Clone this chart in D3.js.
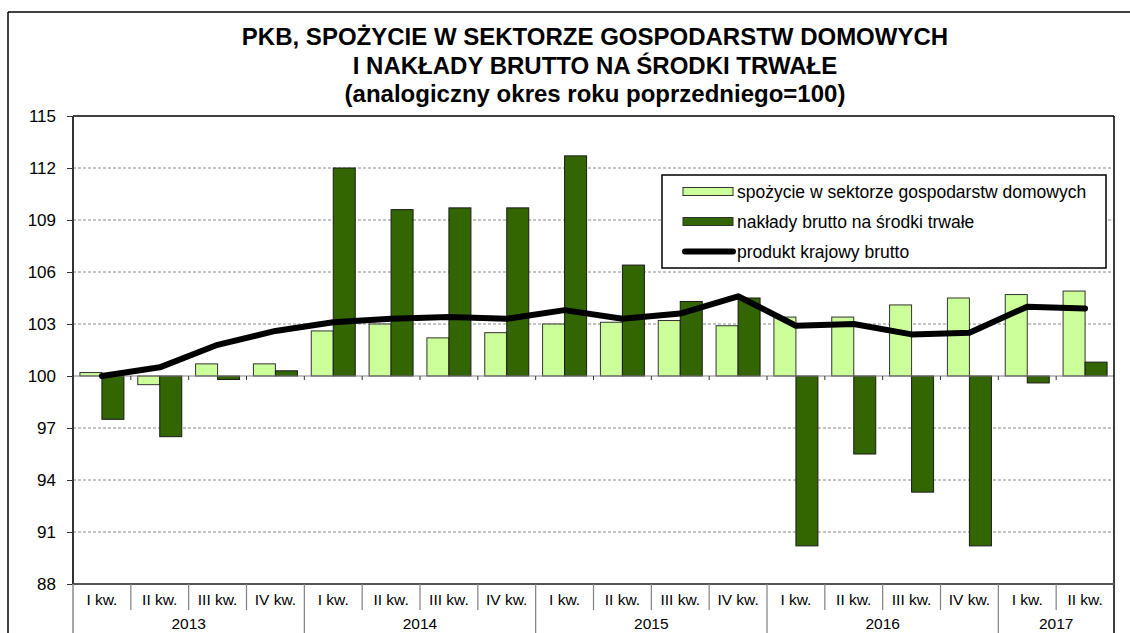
<!DOCTYPE html>
<html>
<head>
<meta charset="utf-8">
<script src="https://cdn.jsdelivr.net/npm/d3@7/dist/d3.min.js"></script>
<style>
  html, body { margin: 0; padding: 0; background: #fff; }
  svg { display: block; font-family: "Liberation Sans", Arial, sans-serif; }
</style>
</head>
<body>
<svg id="chart" width="1130" height="633"></svg>
<script>
// Quarterly indices, same period of previous year = 100
const quarters = ["I kw.", "II kw.", "III kw.", "IV kw.",
                  "I kw.", "II kw.", "III kw.", "IV kw.",
                  "I kw.", "II kw.", "III kw.", "IV kw.",
                  "I kw.", "II kw.", "III kw.", "IV kw.",
                  "I kw.", "II kw."];
const years = [
  { label: "2013", count: 4 },
  { label: "2014", count: 4 },
  { label: "2015", count: 4 },
  { label: "2016", count: 4 },
  { label: "2017", count: 2 }
];
const consumption = [100.2, 99.5, 100.7, 100.7,
                     102.6, 103.0, 102.2, 102.5,
                     103.0, 103.1, 103.2, 102.9,
                     103.4, 103.4, 104.1, 104.5,
                     104.7, 104.9];
const investment = [97.5, 96.5, 99.8, 100.3,
                    112.0, 109.6, 109.7, 109.7,
                    112.7, 106.4, 104.3, 104.5,
                    90.2, 95.5, 93.3, 90.2,
                    99.6, 100.8];
const gdp = [100.0, 100.5, 101.8, 102.6,
             103.1, 103.3, 103.4, 103.3,
             103.8, 103.3, 103.6, 104.6,
             102.9, 103.0, 102.4, 102.5,
             104.0, 103.9];
const yTicks = [88, 91, 94, 97, 100, 103, 106, 109, 112, 115];
const baseValue = 100;

const titleLines = [
  "PKB, SPOŻYCIE W SEKTORZE GOSPODARSTW DOMOWYCH",
  "I NAKŁADY BRUTTO NA ŚRODKI TRWAŁE",
  "(analogiczny okres roku poprzedniego=100)"
];
const legendItems = [
  { label: "spożycie w sektorze gospodarstw domowych", type: "bar", color: "#CCFF99" },
  { label: "nakłady brutto na środki trwałe", type: "bar", color: "#336600" },
  { label: "produkt krajowy brutto", type: "line", color: "#000000" }
];

const svg = d3.select("#chart");
const W = 1130, H = 633;
const plot = { left: 73, right: 1114, top: 116, bottom: 584 };

// Outer frame (top and left edges)
svg.append("line").attr("x1", 8).attr("x2", W).attr("y1", 12).attr("y2", 12)
  .attr("stroke", "#000").attr("stroke-width", 1.5);
svg.append("line").attr("x1", 8).attr("x2", 8).attr("y1", 12).attr("y2", H)
  .attr("stroke", "#000").attr("stroke-width", 1.5);

// Title
const title = svg.append("text").attr("text-anchor", "middle")
  .attr("font-weight", "bold").attr("font-size", 24).attr("fill", "#000");
titleLines.forEach((t, i) => {
  title.append("tspan").attr("x", 595).attr("y", 45 + i * 28.5).text(t);
});

// Scales
const idx = d3.range(quarters.length);
const x = d3.scaleBand().domain(idx).range([plot.left, plot.right]).paddingInner(0).paddingOuter(0);
const bw = x.bandwidth();
const barW = 22;
const xs = d3.scaleBand().domain(["c", "i"]).range([bw / 2 - barW, bw / 2 + barW]);
const y = d3.scaleLinear().domain([88, 115]).range([plot.bottom, plot.top]);

// Gridlines
svg.append("g").selectAll("line")
  .data(yTicks.filter(v => v !== 88 && v !== 115 && v !== baseValue))
  .join("line")
  .attr("x1", plot.left).attr("x2", plot.right)
  .attr("y1", d => y(d)).attr("y2", d => y(d))
  .attr("stroke", "#8a8a8a").attr("stroke-width", 1)
  .attr("stroke-dasharray", "3,2");

// Bars
const bars = svg.append("g");
bars.selectAll("rect.c").data(idx).join("rect").attr("class", "c")
  .attr("x", i => x(i) + xs("c"))
  .attr("width", xs.bandwidth())
  .attr("y", i => y(Math.max(consumption[i], baseValue)))
  .attr("height", i => Math.abs(y(consumption[i]) - y(baseValue)))
  .attr("fill", "#CCFF99").attr("stroke", "#333").attr("stroke-width", 1);
bars.selectAll("rect.i").data(idx).join("rect").attr("class", "i")
  .attr("x", i => x(i) + xs("i"))
  .attr("width", xs.bandwidth())
  .attr("y", i => y(Math.max(investment[i], baseValue)))
  .attr("height", i => Math.abs(y(investment[i]) - y(baseValue)))
  .attr("fill", "#336600").attr("stroke", "#1a1a1a").attr("stroke-width", 1);

// Category axis crossing at 100
svg.append("line").attr("x1", plot.left).attr("x2", plot.right)
  .attr("y1", y(baseValue)).attr("y2", y(baseValue))
  .attr("stroke", "#808080").attr("stroke-width", 1);
svg.append("g").selectAll("line").data(d3.range(1, quarters.length)).join("line")
  .attr("x1", i => x(i)).attr("x2", i => x(i))
  .attr("y1", y(baseValue)).attr("y2", y(baseValue) + 4)
  .attr("stroke", "#333").attr("stroke-width", 1);

// GDP line
const line = d3.line().x((d, i) => x(i) + bw / 2).y(d => y(d));
svg.append("path").datum(gdp).attr("d", line)
  .attr("fill", "none").attr("stroke", "#000").attr("stroke-width", 6)
  .attr("stroke-linejoin", "round").attr("stroke-linecap", "round");

// Plot border: top, right, bottom
svg.append("line").attr("x1", plot.left).attr("x2", plot.right).attr("y1", plot.top).attr("y2", plot.top)
  .attr("stroke", "#000").attr("stroke-width", 1.5);
svg.append("line").attr("x1", plot.right).attr("x2", plot.right).attr("y1", plot.top).attr("y2", H)
  .attr("stroke", "#000").attr("stroke-width", 1.5);
svg.append("line").attr("x1", plot.left).attr("x2", plot.right).attr("y1", plot.bottom).attr("y2", plot.bottom)
  .attr("stroke", "#555").attr("stroke-width", 2);

// Value axis
const yAxis = d3.axisLeft(y).tickValues(yTicks).tickSize(6).tickPadding(11).tickFormat(d3.format("d"));
const ya = svg.append("g").attr("transform", `translate(${plot.left},0)`).call(yAxis);
ya.select(".domain").remove();
ya.selectAll(".tick line").attr("stroke", "#333");
ya.selectAll(".tick text").attr("font-size", 17).attr("fill", "#000")
  .attr("font-family", "Liberation Sans, Arial, sans-serif");
svg.append("line").attr("x1", plot.left).attr("x2", plot.left).attr("y1", plot.top).attr("y2", plot.bottom)
  .attr("stroke", "#333").attr("stroke-width", 2);
svg.append("line").attr("x1", plot.left).attr("x2", plot.left).attr("y1", plot.bottom).attr("y2", H)
  .attr("stroke", "#888").attr("stroke-width", 1.5);

// Multi-level category labels
const lab = svg.append("g").attr("font-size", 15.5).attr("fill", "#000");
lab.selectAll("text").data(idx).join("text")
  .attr("x", i => x(i) + bw / 2).attr("y", 605)
  .attr("text-anchor", "middle").text(i => quarters[i]);
let start = 0;
const yearStarts = [];
years.forEach(yr => { yearStarts.push({ yr, start }); start += yr.count; });
lab.selectAll("text.year").data(yearStarts).join("text").attr("class", "year")
  .attr("x", d => (x(d.start) + x(d.start + d.yr.count - 1) + bw) / 2)
  .attr("y", 629).attr("text-anchor", "middle").text(d => d.yr.label);
const yearBoundary = new Set(yearStarts.map(d => d.start));
svg.append("g").selectAll("line").data(d3.range(1, quarters.length)).join("line")
  .attr("x1", i => x(i)).attr("x2", i => x(i))
  .attr("y1", plot.bottom).attr("y2", i => yearBoundary.has(i) ? H : 610)
  .attr("stroke", "#808080").attr("stroke-width", 1.2);

// Legend
const lg = svg.append("g");
lg.append("rect").attr("x", 662).attr("y", 175).attr("width", 444).attr("height", 93)
  .attr("fill", "#fff").attr("stroke", "#000").attr("stroke-width", 1.5);
legendItems.forEach((d, i) => {
  const cy = 191.5 + i * 30;
  if (d.type === "bar") {
    lg.append("rect").attr("x", 683).attr("y", cy - 4).attr("width", 50).attr("height", 8)
      .attr("fill", d.color).attr("stroke", "#333").attr("stroke-width", 1);
  } else {
    lg.append("line").attr("x1", 685).attr("x2", 733).attr("y1", cy).attr("y2", cy)
      .attr("stroke", d.color).attr("stroke-width", 6).attr("stroke-linecap", "round");
  }
  lg.append("text").attr("x", 737).attr("y", cy + 6).attr("font-size", 17.5)
    .attr("fill", "#000").text(d.label);
});
</script>
</body>
</html>
